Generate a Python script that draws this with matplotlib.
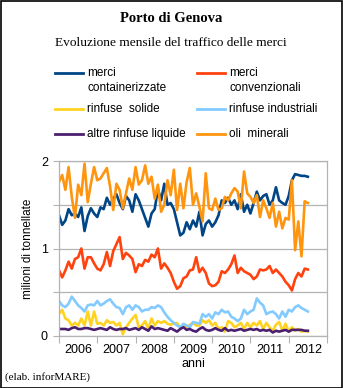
import matplotlib.pyplot as plt
from matplotlib.lines import Line2D
from matplotlib.patches import Rectangle
import numpy as np

# traffico mensile, milioni di tonnellate, gen 2006 - lug 2012
containerizzate = [
    1.38, 1.27, 1.32, 1.45, 1.38, 1.40, 1.36, 1.47, 1.20, 1.37, 1.46, 1.40,
    1.36, 1.47, 1.45, 1.58, 1.50, 1.57, 1.62, 1.52, 1.45, 1.60, 1.55, 1.42,
    1.62, 1.55, 1.45, 1.35, 1.25, 1.40, 1.45, 1.68, 1.55, 1.74, 1.50, 1.52,
    1.45, 1.30, 1.15, 1.18, 1.30, 1.22, 1.32, 1.25, 1.42, 1.15, 1.28, 1.32,
    1.25, 1.30, 1.38, 1.55, 1.52, 1.58, 1.50, 1.55, 1.45, 1.62, 1.42, 1.50,
    1.40, 1.52, 1.65, 1.55, 1.60, 1.62, 1.50, 1.55, 1.70, 1.55, 1.52, 1.50,
    1.60, 1.78, 1.85, 1.84, 1.83, 1.83, 1.82]
convenzionali = [
    0.75, 0.67, 0.75, 0.85, 0.77, 0.88, 0.90, 1.00, 0.77, 0.90, 0.90, 0.83,
    0.77, 0.75, 0.82, 0.96, 0.80, 0.97, 1.05, 1.13, 0.88, 0.95, 0.92, 0.88,
    0.73, 0.82, 0.80, 0.87, 0.85, 0.93, 0.90, 1.00, 0.77, 0.83, 0.78, 0.72,
    0.62, 0.54, 0.57, 0.66, 0.68, 0.75, 0.76, 0.90, 0.73, 0.78, 0.72, 0.60,
    0.57, 0.58, 0.62, 0.74, 0.72, 0.76, 0.82, 0.92, 0.72, 0.78, 0.74, 0.72,
    0.70, 0.65, 0.68, 0.76, 0.75, 0.76, 0.80, 0.72, 0.76, 0.72, 0.68, 0.62,
    0.58, 0.52, 0.65, 0.72, 0.68, 0.77, 0.76]
rinfuse_solide = [
    0.25, 0.30, 0.20, 0.18, 0.12, 0.15, 0.12, 0.20, 0.12, 0.28, 0.12, 0.28,
    0.14, 0.15, 0.12, 0.18, 0.15, 0.16, 0.12, 0.15, 0.02, 0.10, 0.15, 0.20,
    0.24, 0.10, 0.12, 0.17, 0.08, 0.20, 0.12, 0.17, 0.15, 0.17, 0.14, 0.13,
    0.14, 0.15, 0.10, 0.12, 0.08, 0.13, 0.15, 0.12, 0.12, 0.18, 0.15, 0.18,
    0.12, 0.15, 0.08, 0.10, 0.05, 0.17, 0.15, 0.10, 0.12, 0.15, 0.08, 0.15,
    0.10, 0.15, 0.12, 0.17, 0.08, 0.15, 0.10, 0.06, 0.13, 0.16, 0.06, 0.14,
    0.05, 0.10, 0.06, 0.08, 0.05, 0.06, 0.05]
rinfuse_industriali = [
    0.40, 0.35, 0.33, 0.37, 0.45, 0.40, 0.35, 0.32, 0.28, 0.35, 0.36, 0.35,
    0.40, 0.35, 0.37, 0.40, 0.42, 0.37, 0.33, 0.32, 0.25, 0.33, 0.35, 0.30,
    0.35, 0.33, 0.28, 0.30, 0.30, 0.33, 0.32, 0.35, 0.33, 0.27, 0.22, 0.18,
    0.15, 0.12, 0.10, 0.14, 0.12, 0.10, 0.16, 0.15, 0.14, 0.25, 0.22, 0.25,
    0.20, 0.27, 0.25, 0.30, 0.27, 0.28, 0.22, 0.20, 0.17, 0.20, 0.30, 0.25,
    0.28, 0.30, 0.43, 0.38, 0.35, 0.25, 0.27, 0.28, 0.25, 0.20, 0.28, 0.22,
    0.30, 0.28, 0.33, 0.35, 0.32, 0.30, 0.28]
altre_liquide = [
    0.08, 0.08, 0.08, 0.07, 0.09, 0.10, 0.08, 0.08, 0.09, 0.09, 0.08, 0.07,
    0.08, 0.09, 0.08, 0.07, 0.10, 0.08, 0.07, 0.08, 0.08, 0.09, 0.07, 0.08,
    0.09, 0.07, 0.10, 0.08, 0.06, 0.11, 0.08, 0.09, 0.08, 0.07, 0.06, 0.09,
    0.07, 0.05, 0.08, 0.10, 0.07, 0.08, 0.06, 0.05, 0.08, 0.10, 0.07, 0.06,
    0.07, 0.09, 0.07, 0.06, 0.09, 0.06, 0.07, 0.06, 0.07, 0.08, 0.06, 0.07,
    0.08, 0.07, 0.08, 0.06, 0.07, 0.06, 0.07, 0.04, 0.06, 0.05, 0.06, 0.07,
    0.05, 0.07, 0.07, 0.07, 0.07, 0.06, 0.06]
oli_minerali = [
    1.76, 1.84, 1.67, 1.93, 1.59, 1.35, 1.73, 1.61, 1.97, 1.53, 1.74, 1.93,
    1.78, 1.80, 1.86, 1.92, 1.71, 1.44, 1.74, 1.67, 1.46, 1.63, 1.80, 1.67,
    1.93, 1.73, 1.78, 1.95, 1.74, 1.82, 1.57, 1.73, 1.42, 1.50, 1.78, 1.61,
    1.90, 1.44, 1.74, 1.46, 1.76, 1.92, 1.50, 1.63, 1.48, 1.31, 1.86, 1.46,
    1.44, 1.57, 1.44, 1.46, 1.59, 1.55, 1.63, 1.69, 1.65, 1.46, 1.88, 1.63,
    1.59, 1.52, 1.61, 1.36, 1.55, 1.46, 1.35, 1.52, 1.25, 1.42, 1.23, 1.35,
    1.33, 1.78, 0.98, 1.31, 0.91, 1.54, 1.52]

anni = ['2006', '2007', '2008', '2009', '2010', '2011', '2012']

serie = [
    ('merci\ncontainerizzate', containerizzate, '#004586'),
    ('merci\nconvenzionali', convenzionali, '#ff420e'),
    ('rinfuse  solide', rinfuse_solide, '#ffd320'),
    ('rinfuse industriali', rinfuse_industriali, '#83caff'),
    ('altre rinfuse liquide', altre_liquide, '#4b1f6f'),
    ('oli  minerali', oli_minerali, '#ff950e'),
]

W, H = 343, 388
fig = plt.figure(figsize=(W / 100, H / 100), dpi=100)
fig.patch.set_facecolor('white')
fig.add_artist(Rectangle((0.5 / W, 0.5 / H), 1 - 1.5 / W, 1 - 1.5 / H,
                         transform=fig.transFigure, fill=False,
                         edgecolor='black', linewidth=1.2))

fig.text(171 / W, 1 - 19 / H, 'Porto di Genova', ha='center', va='center',
         family='Liberation Serif', fontweight='bold', fontsize=10.5)
fig.text(171 / W, 1 - 43 / H, 'Evoluzione mensile del traffico delle merci',
         ha='center', va='center', family='Liberation Serif', fontsize=9.6)

# legenda a due colonne
leg_pos = [(55, 73), (197, 73), (55, 109), (197, 109), (55, 134), (197, 134)]
for (nome, valori, col), (lx, ly) in zip(serie, leg_pos):
    fig.add_artist(Line2D([lx / W, (lx + 28) / W], [1 - ly / H, 1 - ly / H],
                          transform=fig.transFigure, color=col, linewidth=2))
    fig.text((lx + 32) / W, 1 - (ly - 6) / H, nome, ha='left', va='top',
             family='Liberation Sans', fontsize=8.5, linespacing=1.35)

ax = fig.add_axes([59 / W, (H - 336) / H, 268 / W, 175 / H])
x = np.arange(len(containerizzate)) / 12.0
for nome, valori, col in serie:
    ax.plot(x, valori, color=col, linewidth=1.9, solid_joinstyle='round')

ax.set_xlim(0, 7)
ax.set_ylim(0, 2)
ax.set_xticks(np.arange(0, 8))
ax.set_xticklabels([])
ax.set_xticks(np.arange(7) + 0.5, minor=True)
ax.set_xticklabels(anni, minor=True)
ax.tick_params(axis='x', which='major', length=5, color='#b3b3b3', direction='out')
ax.tick_params(axis='x', which='minor', length=0, pad=6)
ax.set_yticks([0, 0.5, 1, 1.5, 2])
ax.set_yticklabels(['0', '', '1', '', '2'])
ax.tick_params(axis='y', length=4, color='#b3b3b3', direction='out', pad=4)
for lab in ax.get_xticklabels(minor=True) + ax.get_yticklabels():
    lab.set_family('Liberation Sans')
    lab.set_fontsize(9)
ax.grid(axis='y', color='#b3b3b3', linewidth=0.9)
ax.set_axisbelow(True)
for sp in ax.spines.values():
    sp.set_color('#b3b3b3')
    sp.set_linewidth(0.9)

ax.set_ylabel('milioni di tonnellate', family='Liberation Sans', fontsize=8.5,
              labelpad=5)
ax.set_xlabel('anni', family='Liberation Sans', fontsize=9, labelpad=1)

fig.text(5 / W, 1 - 377 / H, '(elab. inforMARE)', ha='left', va='center',
         family='Liberation Serif', fontsize=8)

fig.savefig('out.png', dpi=100)
